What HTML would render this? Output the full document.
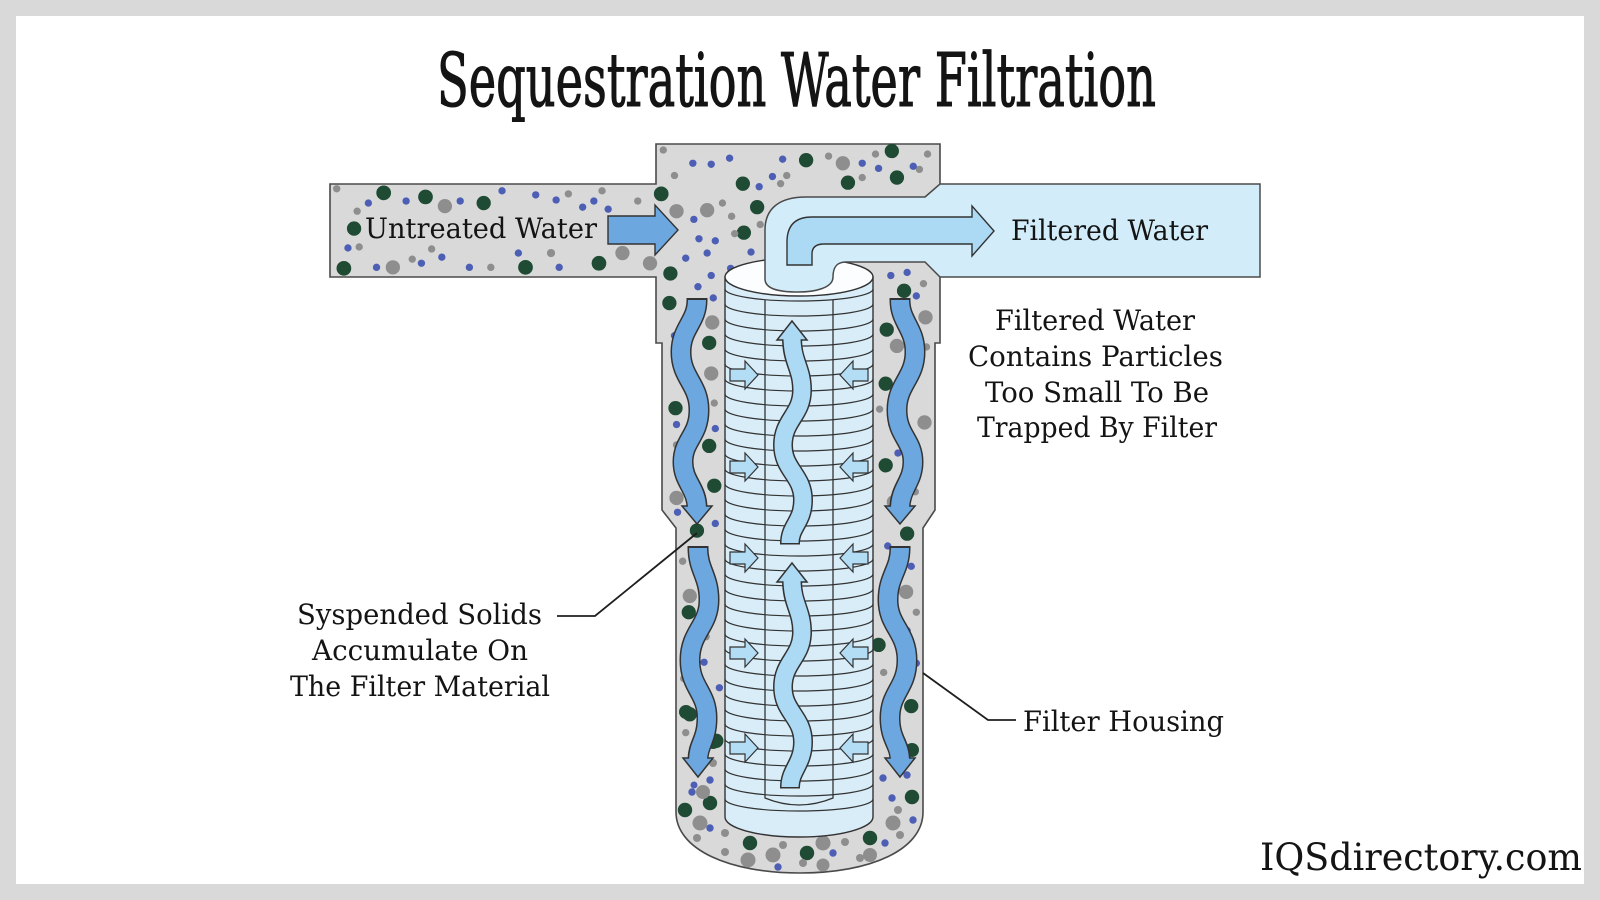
<!DOCTYPE html>
<html><head><meta charset="utf-8"><style>
html,body{margin:0;padding:0;background:#d9d9d9;}
svg{display:block;}
text{font-family:"DejaVu Serif","Liberation Serif",serif;fill:#141414;}
</style></head><body>
<svg width="1600" height="900" viewBox="0 0 1600 900" xmlns="http://www.w3.org/2000/svg">
<rect width="1600" height="900" fill="#d9d9d9"/>
<rect x="16" y="16" width="1568" height="868" fill="#ffffff"/>
<defs>
<clipPath id="hc"><path d="M 330 184 L 656 184 L 656 144 L 940 144 L 940 343 L 935 343 L 935 510 L 923 528 L 923 812 C 923 850 870 873 800 873 C 730 873 676 850 676 812 L 676 528 L 662 510 L 662 343 L 656 343 L 656 277 L 330 277 Z"/></clipPath>
</defs>

<!-- Title -->
<text x="437" y="106" font-size="74" textLength="719" lengthAdjust="spacingAndGlyphs" stroke="#141414" stroke-width="1.1" style="font-family:'DejaVu Serif Condensed','DejaVu Serif',serif">Sequestration Water Filtration</text>

<!-- Housing -->
<path d="M 330 184 L 656 184 L 656 144 L 940 144 L 940 343 L 935 343 L 935 510 L 923 528 L 923 812 C 923 850 870 873 800 873 C 730 873 676 850 676 812 L 676 528 L 662 510 L 662 343 L 656 343 L 656 277 L 330 277 Z" fill="#d9d9d9" stroke="#4a4a4a" stroke-width="1.6"/>

<!-- Particles -->
<g clip-path="url(#hc)">
<g transform="scale(1.0204)">
<g fill="#1f4a33">
<circle cx="376" cy="189" r="7.2"/><circle cx="417" cy="193" r="7.2"/><circle cx="474" cy="199" r="7"/><circle cx="347" cy="224" r="7"/><circle cx="337" cy="263" r="7.2"/><circle cx="515" cy="262" r="7.2"/><circle cx="587" cy="258" r="7.2"/>
<circle cx="648" cy="190" r="7.2"/><circle cx="728" cy="180" r="7"/><circle cx="790" cy="157" r="7"/><circle cx="831" cy="179" r="7"/><circle cx="874" cy="148" r="7"/><circle cx="879" cy="174" r="7"/><circle cx="742" cy="203" r="7"/><circle cx="729" cy="228" r="7"/><circle cx="657" cy="268" r="7"/><circle cx="656" cy="297" r="7"/>
<circle cx="695" cy="336" r="7"/><circle cx="662" cy="400" r="7"/><circle cx="695" cy="437" r="7"/><circle cx="700" cy="476" r="7"/><circle cx="683" cy="520" r="7"/><circle cx="675" cy="600" r="7"/><circle cx="676" cy="700" r="7"/><circle cx="702" cy="726" r="7"/>
<circle cx="886" cy="285" r="7"/><circle cx="869" cy="323" r="7"/><circle cx="868" cy="376" r="7"/><circle cx="868" cy="456" r="7"/><circle cx="889" cy="523" r="7"/><circle cx="861" cy="632" r="7"/><circle cx="893" cy="692" r="7"/>
</g>
<g fill="#8e8e8e">
<circle cx="330" cy="185" r="3.6"/><circle cx="436" cy="202" r="7"/><circle cx="350" cy="207" r="3.6"/><circle cx="385" cy="262" r="7"/><circle cx="404" cy="254" r="3.6"/><circle cx="610" cy="248" r="7"/><circle cx="637" cy="258" r="7"/><circle cx="557" cy="190" r="3.6"/><circle cx="590" cy="187" r="3.6"/><circle cx="423" cy="244" r="3.6"/><circle cx="481" cy="262" r="3.6"/><circle cx="352" cy="242" r="3.6"/><circle cx="540" cy="248" r="4"/><circle cx="625" cy="197" r="3.6"/>
<circle cx="661" cy="172" r="3.6"/><circle cx="693" cy="206" r="7"/><circle cx="708" cy="199" r="3.6"/><circle cx="826" cy="160" r="7"/><circle cx="663" cy="207" r="7"/><circle cx="717" cy="212" r="3.6"/><circle cx="720" cy="229" r="3.6"/><circle cx="745" cy="220" r="3.6"/><circle cx="909" cy="151" r="3.6"/><circle cx="901" cy="166" r="3.6"/><circle cx="771" cy="172" r="3.6"/><circle cx="650" cy="147" r="3.6"/><circle cx="812" cy="153" r="3.6"/><circle cx="858" cy="151" r="3.6"/><circle cx="765" cy="180" r="3.6"/><circle cx="845" cy="174" r="3.6"/>
<circle cx="698" cy="316" r="7"/><circle cx="664" cy="360" r="3.6"/><circle cx="697" cy="366" r="7"/><circle cx="700" cy="395" r="3.6"/><circle cx="663" cy="436" r="3.6"/><circle cx="669" cy="460" r="3.6"/><circle cx="663" cy="488" r="7"/><circle cx="676" cy="584" r="7"/><circle cx="692" cy="624" r="3.6"/><circle cx="670" cy="665" r="3.6"/><circle cx="672" cy="718" r="3.6"/><circle cx="697" cy="600" r="3.6"/><circle cx="669" cy="550" r="3.6"/>
<circle cx="905" cy="278" r="3.6"/><circle cx="907" cy="311" r="7"/><circle cx="879" cy="339" r="7"/><circle cx="862" cy="401" r="3.6"/><circle cx="906" cy="414" r="7"/><circle cx="897" cy="482" r="3.6"/><circle cx="876" cy="492" r="7"/><circle cx="888" cy="580" r="7"/><circle cx="866" cy="659" r="3.6"/><circle cx="893" cy="663" r="3.6"/><circle cx="908" cy="340" r="3.6"/><circle cx="898" cy="600" r="3.6"/>
</g>
<g fill="#4d5fb5">
<circle cx="361" cy="199" r="3.6"/><circle cx="398" cy="197" r="3.6"/><circle cx="451" cy="197" r="3.6"/><circle cx="492" cy="187" r="3.6"/><circle cx="525" cy="191" r="3.6"/><circle cx="545" cy="196" r="3.6"/><circle cx="571" cy="203" r="3.6"/><circle cx="582" cy="197" r="3.6"/><circle cx="369" cy="262" r="3.6"/><circle cx="341" cy="243" r="3.6"/><circle cx="413" cy="258" r="3.6"/><circle cx="433" cy="252" r="3.6"/><circle cx="460" cy="262" r="3.6"/><circle cx="548" cy="262" r="3.6"/><circle cx="508" cy="248" r="3.6"/><circle cx="596" cy="205" r="3.6"/>
<circle cx="679" cy="160" r="3.6"/><circle cx="697" cy="161" r="3.6"/><circle cx="715" cy="155" r="3.6"/><circle cx="757" cy="173" r="3.6"/><circle cx="767" cy="156" r="3.6"/><circle cx="845" cy="160" r="3.6"/><circle cx="861" cy="165" r="3.6"/><circle cx="895" cy="163" r="3.6"/><circle cx="680" cy="215" r="3.6"/><circle cx="685" cy="234" r="3.6"/><circle cx="701" cy="236" r="3.6"/><circle cx="693" cy="248" r="3.6"/><circle cx="684" cy="281" r="3.6"/><circle cx="697" cy="270" r="3.6"/><circle cx="716" cy="263" r="3.6"/><circle cx="736" cy="247" r="3.6"/><circle cx="744" cy="183" r="3.6"/><circle cx="672" cy="253" r="3.6"/>
<circle cx="661" cy="329" r="3.6"/><circle cx="699" cy="292" r="3.6"/><circle cx="663" cy="416" r="3.6"/><circle cx="701" cy="513" r="3.6"/><circle cx="664" cy="502" r="3.6"/><circle cx="686" cy="560" r="3.6"/><circle cx="690" cy="649" r="3.6"/><circle cx="705" cy="674" r="3.6"/><circle cx="701" cy="420" r="3.6"/>
<circle cx="873" cy="270" r="3.6"/><circle cx="889" cy="267" r="3.6"/><circle cx="898" cy="290" r="3.6"/><circle cx="874" cy="416" r="3.6"/><circle cx="880" cy="444" r="3.6"/><circle cx="879" cy="497" r="3.6"/><circle cx="893" cy="555" r="3.6"/><circle cx="889" cy="618" r="3.6"/><circle cx="898" cy="650" r="3.6"/><circle cx="870" cy="535" r="3.6"/>
</g>
</g>
<!-- bottom particles, original coords -->
<g fill="#1f4a33">
<circle cx="685" cy="810" r="7.2"/><circle cx="710" cy="803" r="7.2"/><circle cx="750" cy="843" r="7.2"/><circle cx="807" cy="853" r="7.2"/><circle cx="870" cy="838" r="7.2"/><circle cx="912" cy="797" r="7.2"/><circle cx="713" cy="742" r="7"/><circle cx="686" cy="712" r="7"/><circle cx="912" cy="750" r="7"/>
</g>
<g fill="#8e8e8e">
<circle cx="703" cy="792" r="7"/><circle cx="700" cy="823" r="7.5"/><circle cx="697" cy="838" r="4"/><circle cx="725" cy="833" r="4"/><circle cx="748" cy="860" r="7.5"/><circle cx="773" cy="855" r="7.5"/><circle cx="783" cy="845" r="4"/><circle cx="823" cy="843" r="7.5"/><circle cx="823" cy="865" r="6.5"/><circle cx="845" cy="842" r="4"/><circle cx="870" cy="855" r="7"/><circle cx="893" cy="823" r="7.5"/><circle cx="898" cy="810" r="4"/><circle cx="860" cy="858" r="4"/><circle cx="803" cy="863" r="4"/><circle cx="725" cy="852" r="4"/><circle cx="713" cy="763" r="4"/><circle cx="900" cy="835" r="4"/>
</g>
<g fill="#4d5fb5">
<circle cx="692" cy="792" r="3.7"/><circle cx="710" cy="780" r="3.7"/><circle cx="710" cy="828" r="3.7"/><circle cx="778" cy="867" r="3.7"/><circle cx="833" cy="853" r="3.7"/><circle cx="885" cy="843" r="3.7"/><circle cx="913" cy="820" r="3.7"/><circle cx="892" cy="798" r="3.7"/><circle cx="883" cy="778" r="3.7"/><circle cx="907" cy="775" r="3.7"/><circle cx="694" cy="785" r="3.5"/>
</g>
</g>

<!-- Cartridge -->
<path d="M 725 277 L 725 817 A 74 20 0 0 0 873 817 L 873 277 Z" fill="#d9edf9" stroke="#333" stroke-width="1.4"/>
<path d="M 725 289 A 74 12 0 0 0 873 289 M 725 304 A 74 12 0 0 0 873 304 M 725 319 A 74 12 0 0 0 873 319 M 725 334 A 74 12 0 0 0 873 334 M 725 349 A 74 12 0 0 0 873 349 M 725 364 A 74 12 0 0 0 873 364 M 725 379 A 74 12 0 0 0 873 379 M 725 394 A 74 12 0 0 0 873 394 M 725 409 A 74 12 0 0 0 873 409 M 725 424 A 74 12 0 0 0 873 424 M 725 439 A 74 12 0 0 0 873 439 M 725 454 A 74 12 0 0 0 873 454 M 725 469 A 74 12 0 0 0 873 469 M 725 484 A 74 12 0 0 0 873 484 M 725 499 A 74 12 0 0 0 873 499 M 725 514 A 74 12 0 0 0 873 514 M 725 529 A 74 12 0 0 0 873 529 M 725 544 A 74 12 0 0 0 873 544 M 725 559 A 74 12 0 0 0 873 559 M 725 574 A 74 12 0 0 0 873 574 M 725 589 A 74 12 0 0 0 873 589 M 725 604 A 74 12 0 0 0 873 604 M 725 619 A 74 12 0 0 0 873 619 M 725 634 A 74 12 0 0 0 873 634 M 725 649 A 74 12 0 0 0 873 649 M 725 664 A 74 12 0 0 0 873 664 M 725 679 A 74 12 0 0 0 873 679 M 725 694 A 74 12 0 0 0 873 694 M 725 709 A 74 12 0 0 0 873 709 M 725 724 A 74 12 0 0 0 873 724 M 725 739 A 74 12 0 0 0 873 739 M 725 754 A 74 12 0 0 0 873 754 M 725 769 A 74 12 0 0 0 873 769 M 725 784 A 74 12 0 0 0 873 784 M 725 799 A 74 12 0 0 0 873 799" fill="none" stroke="#333" stroke-width="1.2"/>
<path d="M 765 300 L 765 798 Q 799 812 833 798 L 833 300" fill="none" stroke="#333" stroke-width="1.3"/>
<ellipse cx="799" cy="277" rx="74" ry="19" fill="#fbfdff" stroke="#333" stroke-width="1.4"/>

<!-- Pipe + filtered water box -->
<path d="M 925 197 L 940 184 L 1260 184 L 1260 277 L 940 277 L 925 262 L 846 262 C 836 262 833 268 833 277 C 833 288 815 292 798 292 C 776 292 765 288 765 279 L 765 230 C 765 208 780 197 806 197 Z" fill="#d3ecf9" stroke="#4a4a4a" stroke-width="1.5"/>
<path d="M 787 265 L 787 242 Q 787 217 812 217 L 972 217 L 972 206 L 994 231 L 972 256 L 972 244 L 824 244 Q 812 244 812 254 L 812 265 Z" fill="#acdaf4" stroke="#333" stroke-width="1.4"/>

<!-- Untreated arrow -->
<path d="M 608 216 L 655 216 L 655 205 L 678 230 L 655 255 L 655 244 L 608 244 Z" fill="#6ca7df" stroke="#333" stroke-width="1.4"/>

<!-- Wavy down arrows (side channels) -->
<g fill="none">
<path d="M 697 298 L 697 300 C 697 322 681 328 681 352 C 681 378 699 384 699 410 C 699 436 683 440 683 462 C 683 482 697 488 697 508" stroke="#333" stroke-width="21"/>
<path d="M 698 546 L 698 548 C 698 570 709 576 709 600 C 709 626 690 632 690 660 C 690 688 707 692 707 718 C 707 740 698 744 698 760" stroke="#333" stroke-width="21"/>
<path d="M 900 298 L 900 300 C 900 322 915 328 915 352 C 915 378 897 384 897 410 C 897 436 913 440 913 462 C 913 482 900 488 900 508" stroke="#333" stroke-width="21"/>
<path d="M 900 546 L 900 548 C 900 570 888 576 888 600 C 888 626 907 632 907 660 C 907 688 890 692 890 718 C 890 740 900 744 900 760" stroke="#333" stroke-width="21"/>
</g>
<g fill="#6ca7df" stroke="#333" stroke-width="1.5">
<polygon points="682,506 712,506 697,524"/>
<polygon points="683,758 713,758 698,777"/>
<polygon points="885,506 915,506 900,524"/>
<polygon points="885,758 915,758 900,777"/>
</g>
<g fill="none" stroke="#6ca7df" stroke-width="18">
<path d="M 697 300 C 697 322 681 328 681 352 C 681 378 699 384 699 410 C 699 436 683 440 683 462 C 683 482 697 488 697 509"/>
<path d="M 698 548 C 698 570 709 576 709 600 C 709 626 690 632 690 660 C 690 688 707 692 707 718 C 707 740 698 744 698 761"/>
<path d="M 900 300 C 900 322 915 328 915 352 C 915 378 897 384 897 410 C 897 436 913 440 913 462 C 913 482 900 488 900 509"/>
<path d="M 900 548 C 900 570 888 576 888 600 C 888 626 907 632 907 660 C 907 688 890 692 890 718 C 890 740 900 744 900 761"/>
</g>

<!-- Center up arrows -->
<g fill="none" stroke="#333" stroke-width="20">
<path d="M 792 338 C 792 362 802 368 802 390 C 802 415 783 420 783 445 C 783 470 803 475 803 500 C 803 522 790 526 790 543 L 790 544.5"/>
<path d="M 792 580 C 792 604 802 610 802 632 C 802 657 783 662 783 687 C 783 712 803 717 803 742 C 803 764 790 770 790 787 L 790 788.5"/>
</g>
<g fill="#acdaf4" stroke="#333" stroke-width="1.5">
<polygon points="777,340 807,340 792,321"/>
<polygon points="777,582 807,582 792,563"/>
</g>
<g fill="none" stroke="#acdaf4" stroke-width="17">
<path d="M 792 337 C 792 362 802 368 802 390 C 802 415 783 420 783 445 C 783 470 803 475 803 500 C 803 522 790 526 790 543"/>
<path d="M 792 579 C 792 604 802 610 802 632 C 802 657 783 662 783 687 C 783 712 803 717 803 742 C 803 764 790 770 790 787"/>
</g>

<!-- Inward small arrows -->
<g fill="#b3dcf5" stroke="#333" stroke-width="1.2">
<polygon points="730,369 745,369 745,361 758,375 745,389 745,381 730,381"/>
<polygon points="730,461 745,461 745,453 758,467 745,481 745,473 730,473"/>
<polygon points="730,552 745,552 745,544 758,558 745,572 745,564 730,564"/>
<polygon points="730,647 745,647 745,639 758,653 745,667 745,659 730,659"/>
<polygon points="730,742 745,742 745,734 758,748 745,762 745,754 730,754"/>
<polygon points="868,369 853,369 853,361 840,375 853,389 853,381 868,381"/>
<polygon points="868,461 853,461 853,453 840,467 853,481 853,473 868,473"/>
<polygon points="868,552 853,552 853,544 840,558 853,572 853,564 868,564"/>
<polygon points="868,647 853,647 853,639 840,653 853,667 853,659 868,659"/>
<polygon points="868,742 853,742 853,734 840,748 853,762 853,754 868,754"/>
</g>

<!-- Leader lines -->
<g fill="none" stroke="#1e1e1e" stroke-width="1.8">
<polyline points="557,616 595,616 697,533"/>
<polyline points="923,673 988,720 1016,720"/>
</g>

<!-- Labels -->
<text x="365" y="238" font-size="28" textLength="232" lengthAdjust="spacingAndGlyphs">Untreated Water</text>
<text x="1011" y="240" font-size="28" textLength="197" lengthAdjust="spacingAndGlyphs">Filtered Water</text>

<text x="995" y="330" font-size="28" textLength="200" lengthAdjust="spacingAndGlyphs">Filtered Water</text>
<text x="968" y="366" font-size="28" textLength="255" lengthAdjust="spacingAndGlyphs">Contains Particles</text>
<text x="985" y="402" font-size="28" textLength="224" lengthAdjust="spacingAndGlyphs">Too Small To Be</text>
<text x="977" y="437" font-size="28" textLength="240" lengthAdjust="spacingAndGlyphs">Trapped By Filter</text>

<text x="297" y="624" font-size="28" textLength="245" lengthAdjust="spacingAndGlyphs">Syspended Solids</text>
<text x="312" y="660" font-size="28" textLength="216" lengthAdjust="spacingAndGlyphs">Accumulate On</text>
<text x="290" y="696" font-size="28" textLength="260" lengthAdjust="spacingAndGlyphs">The Filter Material</text>

<text x="1023" y="731" font-size="28" textLength="201" lengthAdjust="spacingAndGlyphs">Filter Housing</text>

<text x="1260" y="870" font-size="37" textLength="322" lengthAdjust="spacingAndGlyphs">IQSdirectory.com</text>
</svg>
</body></html>
